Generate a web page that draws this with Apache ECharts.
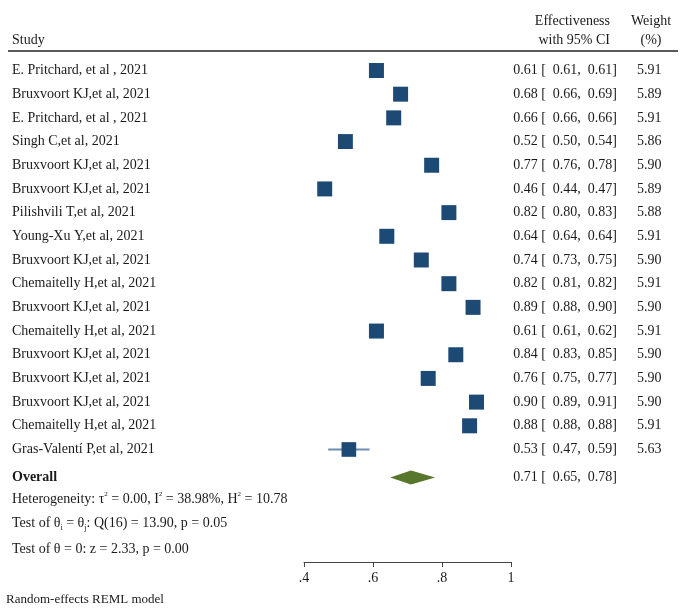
<!DOCTYPE html>
<html><head><meta charset="utf-8">
<script src="https://cdn.jsdelivr.net/npm/echarts@6/dist/echarts.min.js"></script>
<style>html,body{margin:0;padding:0;background:#fff}#c{width:685px;height:614px}</style>
</head><body><div id="c"></div>
<script>
const studies = [
  'E. Pritchard, et al , 2021',
  'Bruxvoort KJ,et al, 2021',
  'E. Pritchard, et al , 2021',
  'Singh C,et al, 2021',
  'Bruxvoort KJ,et al, 2021',
  'Bruxvoort KJ,et al, 2021',
  'Pilishvili T,et al, 2021',
  'Young-Xu Y,et al, 2021',
  'Bruxvoort KJ,et al, 2021',
  'Chemaitelly H,et al, 2021',
  'Bruxvoort KJ,et al, 2021',
  'Chemaitelly H,et al, 2021',
  'Bruxvoort KJ,et al, 2021',
  'Bruxvoort KJ,et al, 2021',
  'Bruxvoort KJ,et al, 2021',
  'Chemaitelly H,et al, 2021',
  'Gras-Valentí P,et al, 2021'
];
const effect = [0.61,0.68,0.66,0.52,0.77,0.46,0.82,0.64,0.74,0.82,0.89,0.61,0.84,0.76,0.90,0.88,0.53];
const lower  = [0.61,0.66,0.66,0.50,0.76,0.44,0.80,0.64,0.73,0.81,0.88,0.61,0.83,0.75,0.89,0.88,0.47];
const upper  = [0.61,0.69,0.66,0.54,0.78,0.47,0.83,0.64,0.75,0.82,0.90,0.62,0.85,0.77,0.91,0.88,0.59];
const weights = [5.91,5.89,5.91,5.86,5.90,5.89,5.88,5.91,5.90,5.91,5.90,5.91,5.90,5.90,5.90,5.91,5.63];
const overall = {label: 'Overall', effect: 0.71, lower: 0.65, upper: 0.78};
const xTickLabels = {'0.4': '.4', '0.6': '.6', '0.8': '.8', '1': '1'};
const statLines = [
  'Heterogeneity: τ{sup|2} = 0.00, I{sup|2} = 38.98%, H{sup|2} = 10.78',
  'Test of θ{sub|i} = θ{sub|j}: Q(16) = 13.90, p = 0.05',
  'Test of θ = 0: z = 2.33, p = 0.00'
];
const footnote = 'Random-effects REML model';

const FONT = "'Liberation Serif','Times New Roman',serif";
const TXT = '#1a1a1a';
const FS = 14;
const overallRow = 17.18;
const statRows = [18.1, 19.1, 20.2];

const chart = echarts.init(document.getElementById('c'));
const rows = studies.map((s, i) => [i, effect[i], lower[i], upper[i], weights[i]]);

chart.setOption({
  animation: false,
  grid: {left: 304, right: 174, top: 58.65, bottom: 52},
  xAxis: {
    type: 'value', min: 0.4, max: 1, interval: 0.2, position: 'bottom',
    axisLine: {onZero: false, lineStyle: {color: '#444', width: 1}},
    axisTick: {length: 5, lineStyle: {color: '#444'}},
    splitLine: {show: false},
    axisLabel: {formatter: v => xTickLabels[String(+v.toFixed(1))] || '', fontFamily: FONT, fontSize: FS, color: TXT, margin: 9}
  },
  yAxis: {type: 'value', inverse: true, min: -0.5, max: 20.75, show: false},
  series: [
    {
      type: 'custom',
      data: rows,
      encode: {x: [1, 2, 3], y: 0},
      renderItem: function (params, api) {
        const y = api.value(0);
        const pL = api.coord([api.value(2), y]);
        const pH = api.coord([api.value(3), y]);
        const pE = api.coord([api.value(1), y]);
        const size = 15 * Math.sqrt(api.value(4) / 5.91);
        return {
          type: 'group',
          children: [
            {type: 'line', shape: {x1: pL[0], y1: pL[1], x2: pH[0], y2: pH[1]}, style: {stroke: '#6f8db0', lineWidth: 2}},
            {type: 'rect', shape: {x: pE[0] - size / 2, y: pE[1] - size / 2, width: size, height: size}, style: {fill: '#1c4a75'}}
          ]
        };
      }
    },
    {
      type: 'custom',
      data: [[overallRow, overall.effect, overall.lower, overall.upper]],
      encode: {x: [1, 2, 3], y: 0},
      renderItem: function (params, api) {
        const y = api.value(0);
        const pL = api.coord([api.value(2), y]);
        const pH = api.coord([api.value(3), y]);
        const pE = api.coord([api.value(1), y]);
        const h = 7;
        return {
          type: 'polygon',
          shape: {points: [[pL[0], pL[1]], [pE[0], pE[1] - h], [pH[0], pH[1]], [pE[0], pE[1] + h]]},
          style: {fill: '#57772c'}
        };
      }
    }
  ]
});

function rowY(r) { return chart.convertToPixel({gridIndex: 0}, [0.4, r])[1]; }
const fmt = v => v.toFixed(2);
const g = [];
function txt(x, y, text, align, extra) {
  g.push({type: 'text', x: x, y: y, silent: true,
    style: Object.assign({text: text, fill: TXT, fontFamily: FONT, fontSize: FS, align: align, verticalAlign: 'middle'}, extra || {})});
}
// header
txt(12, 40, 'Study', 'left');
txt(610, 21, 'Effectiveness', 'right');
txt(610, 40, 'with 95% CI', 'right');
txt(651, 21, 'Weight', 'center');
txt(651, 40, '(%)', 'center');
g.push({type: 'line', shape: {x1: 8, y1: 51, x2: 678, y2: 51}, style: {stroke: '#222', lineWidth: 1.5}, silent: true});
const ci = (e, l, u) => fmt(e) + ' [  ' + fmt(l) + ',  ' + fmt(u) + ']';
studies.forEach((s, i) => {
  const y = rowY(i);
  txt(12, y, s, 'left');
  txt(617, y, ci(effect[i], lower[i], upper[i]), 'right');
  txt(637, y, weights[i].toFixed(2), 'left');
});
const yo = rowY(overallRow);
txt(12, yo, overall.label, 'left', {fontWeight: 'bold'});
txt(617, yo, ci(overall.effect, overall.lower, overall.upper), 'right');
statLines.forEach((s, i) => {
  txt(12, rowY(statRows[i]), s, 'left', {rich: {
    sup: {fontSize: 7, fontFamily: FONT, fill: TXT, verticalAlign: 'top', lineHeight: 17},
    sub: {fontSize: 8, fontFamily: FONT, fill: TXT, verticalAlign: 'bottom', lineHeight: 17}
  }});
});
txt(6, 600, footnote, 'left', {fontSize: 13});
chart.setOption({graphic: g});
</script></body></html>
